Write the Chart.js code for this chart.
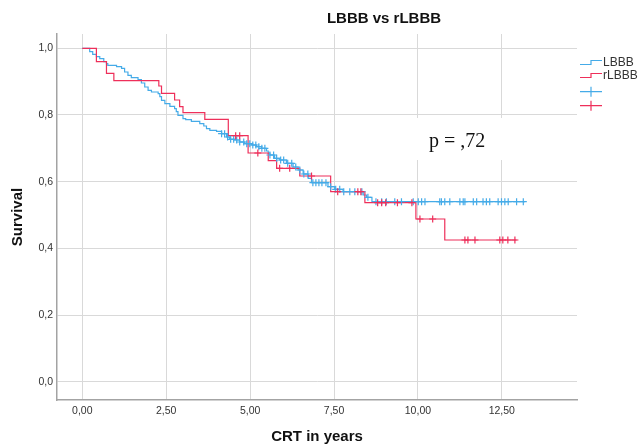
<!DOCTYPE html>
<html><head><meta charset="utf-8">
<script src="https://cdn.jsdelivr.net/npm/chart.js@4/dist/chart.umd.min.js"></script>
<style>html,body{margin:0;padding:0;background:#fff;}#wrap{position:relative;width:641px;height:444px;}</style>
</head><body><div id="wrap"><canvas id="c" width="641" height="444"></canvas></div>
<script>
const chartTitle = 'LBBB vs rLBBB';
const xAxisTitle = 'CRT in years';
const yAxisTitle = 'Survival';
const pValueText = 'p = ,72';
const seriesNames = ['LBBB', 'rLBBB'];
const xTickValues = [0, 2.5, 5, 7.5, 10, 12.5];
const yTickValues = [0, 0.2, 0.4, 0.6, 0.8, 1.0];

const lbbbTimes = [0, 0.22, 0.31, 0.42, 0.52, 0.64, 0.72, 0.76, 1.02, 1.17, 1.26, 1.36, 1.46, 1.66, 1.76, 1.86, 1.96,
  2.06, 2.26, 2.31, 2.36, 2.46, 2.61, 2.75, 2.80, 2.85, 3.00, 3.08, 3.25, 3.50, 3.62, 3.70, 3.80,
  4.00, 4.15, 4.30, 4.39, 4.54, 4.69, 4.84, 5.04, 5.19, 5.34, 5.49, 5.54, 5.59, 5.73, 5.88,
  6.08, 6.28, 6.43, 6.58, 6.73, 6.83, 7.32, 7.52, 7.77, 8.37, 8.47, 8.63];
const lbbbSurvival = [1.000, 0.990, 0.982, 0.975, 0.969, 0.960, 0.954, 0.949, 0.945, 0.940, 0.929, 0.919, 0.912, 0.906, 0.896, 0.884, 0.874,
  0.869, 0.864, 0.855, 0.844, 0.834, 0.826, 0.819, 0.810, 0.799, 0.789, 0.786, 0.781, 0.774, 0.767, 0.759, 0.754,
  0.751, 0.744, 0.734, 0.727, 0.725, 0.719, 0.714, 0.710, 0.705, 0.700, 0.692, 0.686, 0.680, 0.670, 0.665,
  0.655, 0.644, 0.635, 0.623, 0.610, 0.597, 0.585, 0.577, 0.570, 0.560, 0.553, 0.540];
const lbbbLastFollowUp = 13.19;
const lbbbCensorTimes = [4.15, 4.24, 4.33, 4.42, 4.51, 4.60, 4.69, 4.81, 4.90, 4.99, 5.08, 5.17, 5.26, 5.35, 5.44, 5.59, 5.70, 5.79,
  5.91, 6.00, 6.12, 6.24, 6.36, 6.48, 6.60, 6.72, 6.87, 6.96, 7.05, 7.14, 7.26, 7.40, 7.55, 7.67, 7.79, 7.97, 8.12, 8.33,
  8.51, 8.75, 8.92, 9.06, 9.31, 9.51, 9.86, 10.01, 10.11, 10.21, 10.65, 10.70, 10.80, 10.95, 11.25, 11.35, 11.40,
  11.65, 11.75, 11.94, 12.04, 12.14, 12.39, 12.49, 12.59, 12.69, 12.94, 13.14];

const rlbbbTimes = [0, 0.42, 0.72, 0.94, 2.28, 2.36, 2.75, 2.90, 3.00, 3.65, 4.35, 4.94, 5.54, 5.79, 6.48, 7.40, 8.42, 9.94, 10.80];
const rlbbbSurvival = [1.000, 0.960, 0.925, 0.903, 0.887, 0.865, 0.845, 0.825, 0.807, 0.787, 0.738, 0.686, 0.663, 0.640, 0.617, 0.570, 0.537, 0.488, 0.425];
const rlbbbLastFollowUp = 12.94;
const rlbbbCensorTimes = [4.57, 4.69, 5.23, 5.88, 6.18, 6.83, 7.61, 8.21, 8.30, 8.80, 8.92, 9.04, 9.39, 9.82, 10.06, 10.44,
  11.40, 11.49, 11.70, 12.44, 12.53, 12.68, 12.89];

const BLUE = '#45abe8';
const RED = '#ee2f5a';

function survAt(times, surv, t) {
  let s = surv[0];
  for (let i = 0; i < times.length; i++) { if (times[i] <= t) s = surv[i]; }
  return s;
}
function curve(times, surv, last) {
  const pts = times.map((t, i) => ({x: t, y: surv[i]}));
  pts.push({x: last, y: surv[surv.length - 1]});
  return pts;
}
function censors(ct, times, surv) {
  return ct.map(t => ({x: t, y: survAt(times, surv, t)}));
}
const comma = (v, d) => v.toFixed(d).replace('.', ',');

const overlay = {
  id: 'overlay',
  beforeDatasetsDraw(chart) {
    const ctx = chart.ctx;
    ctx.save();
    ctx.fillStyle = '#ffffff';
    ctx.fillRect(404, 118, 108, 42);
    ctx.restore();
  },
  afterDraw(chart) {
    const ctx = chart.ctx;
    ctx.save();
    // title
    ctx.fillStyle = '#111';
    ctx.font = 'bold 15px "Liberation Sans", Arial, sans-serif';
    ctx.textAlign = 'center';
    ctx.textBaseline = 'middle';
    ctx.fillText(chartTitle, 384, 19);
    // p value
    ctx.font = '20px "Liberation Serif", "Times New Roman", serif';
    ctx.textAlign = 'left';
    ctx.textBaseline = 'alphabetic';
    ctx.fillText(pValueText, 429, 146.5);
    // legend
    const cols = [BLUE, RED];
    ctx.lineWidth = 1.2;
    ctx.font = '12px "Liberation Sans", Arial, sans-serif';
    ctx.textBaseline = 'middle';
    [[64.5, 60.5, 62.5], [77.5, 73.5, 76]].forEach((r, i) => {
      ctx.strokeStyle = cols[i];
      ctx.beginPath();
      ctx.moveTo(580, r[0]); ctx.lineTo(591, r[0]); ctx.lineTo(591, r[1]); ctx.lineTo(602, r[1]);
      ctx.stroke();
      ctx.fillStyle = '#333';
      ctx.fillText(seriesNames[i], 603, r[2]);
    });
    [91.7, 105.7].forEach((y, i) => {
      ctx.strokeStyle = cols[i];
      ctx.beginPath();
      ctx.moveTo(580, y); ctx.lineTo(602, y);
      ctx.moveTo(591, y - 5); ctx.lineTo(591, y + 5);
      ctx.stroke();
    });
    ctx.restore();
  }
};

new Chart(document.getElementById('c'), {
  type: 'line',
  data: {
    datasets: [
      {label: 'rLBBB censored', data: censors(rlbbbCensorTimes, rlbbbTimes, rlbbbSurvival), showLine: false,
        pointStyle: 'cross', pointRadius: 3.5, pointBorderWidth: 1.2, borderColor: RED, backgroundColor: RED, order: 0},
      {label: 'LBBB censored', data: censors(lbbbCensorTimes, lbbbTimes, lbbbSurvival), showLine: false,
        pointStyle: 'cross', pointRadius: 3.5, pointBorderWidth: 1.2, borderColor: BLUE, backgroundColor: BLUE, order: 1},
      {label: seriesNames[1], data: curve(rlbbbTimes, rlbbbSurvival, rlbbbLastFollowUp), stepped: 'before',
        borderColor: RED, borderWidth: 1.2, pointRadius: 0, fill: false, order: 2},
      {label: seriesNames[0], data: curve(lbbbTimes, lbbbSurvival, lbbbLastFollowUp), stepped: 'before',
        borderColor: BLUE, borderWidth: 1.2, pointRadius: 0, fill: false, order: 3}
    ]
  },
  options: {
    responsive: false,
    animation: false,
    devicePixelRatio: 1,
    layout: {padding: {top: 34, right: 64, bottom: 0, left: 0}},
    plugins: {legend: {display: false}, title: {display: false}, tooltip: {enabled: false}},
    scales: {
      x: {
        type: 'linear', min: -0.754, max: 14.74,
        afterBuildTicks: s => { s.ticks = xTickValues.map(v => ({value: v})); },
        afterFit: s => { s.height = 44; },
        grid: {color: '#d9d9d9', lineWidth: 1, drawTicks: false},
        border: {display: true, color: '#a3a3a3', width: 1.5},
        ticks: {padding: 5, color: '#333', font: {family: '"Liberation Sans", Arial, sans-serif', size: 10.5},
          callback: v => comma(v, 2), maxRotation: 0, autoSkip: false},
        title: {display: true, text: xAxisTitle, color: '#111', padding: {top: 0, bottom: 0},
          font: {family: '"Liberation Sans", Arial, sans-serif', size: 15, weight: 'bold', lineHeight: 1}}
      },
      y: {
        type: 'linear', min: -0.055, max: 1.043,
        afterBuildTicks: s => { s.ticks = yTickValues.map(v => ({value: v})); },
        afterFit: s => { s.width = 57; },
        grid: {color: '#d9d9d9', lineWidth: 1, drawTicks: false},
        border: {display: true, color: '#a3a3a3', width: 1.5},
        ticks: {padding: 4, color: '#333', font: {family: '"Liberation Sans", Arial, sans-serif', size: 10.5},
          callback: v => comma(v, 1), autoSkip: false},
        title: {display: true, text: yAxisTitle, color: '#111', padding: {top: 9, bottom: 0},
          font: {family: '"Liberation Sans", Arial, sans-serif', size: 15, weight: 'bold', lineHeight: 1.2}}
      }
    }
  },
  plugins: [overlay]
});
</script></body></html>
